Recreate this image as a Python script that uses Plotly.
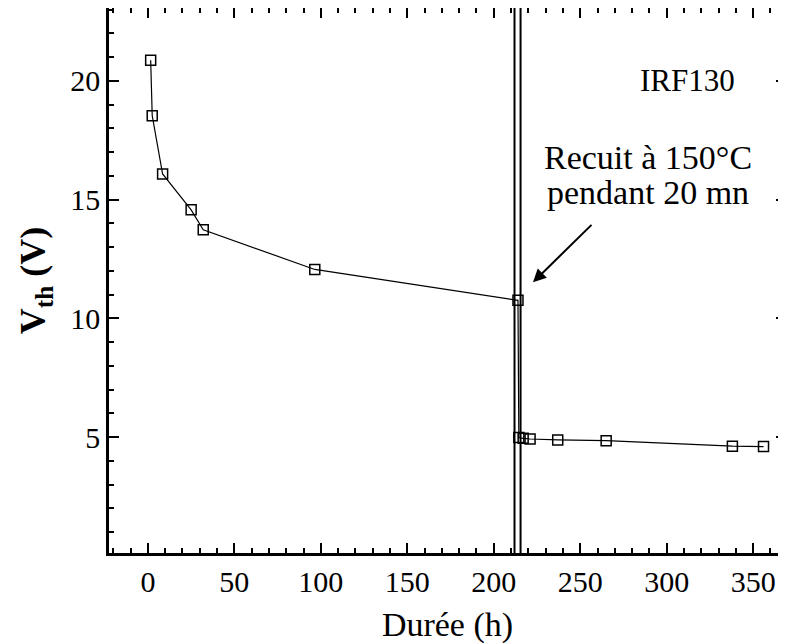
import plotly.graph_objects as go

# Data
hours = [1.6, 2.5, 8.5, 25, 32, 96.5, 214, 214.5, 217, 221, 237, 265, 338, 356]
vth = [20.87, 18.53, 16.08, 14.57, 13.73, 12.06, 10.76, 4.98, 4.95, 4.92, 4.88, 4.85, 4.62, 4.60]

anneal_lines = [212, 215.5]
x_ticks = [0, 50, 100, 150, 200, 250, 300, 350]
y_ticks = [5, 10, 15, 20]

FONT = "Liberation Serif"

fig = go.Figure()
fig.add_trace(go.Scatter(
    x=hours, y=vth, mode="lines+markers",
    line=dict(color="black", width=1.2),
    marker=dict(symbol="square-open", size=10, color="black", line=dict(width=1.5)),
    showlegend=False,
))

for xv in anneal_lines:
    fig.add_shape(type="line", x0=xv, x1=xv, y0=0, y1=1, xref="x", yref="paper",
                  line=dict(color="black", width=2))

fig.add_annotation(x=222.7, y=11.52, ax=257.4, ay=14.0, xref="x", yref="y",
                   axref="x", ayref="y", showarrow=True, arrowhead=2,
                   arrowsize=1.3, arrowwidth=2, arrowcolor="black", text="")
fig.add_annotation(x=312, y=20.0, text="IRF130", showarrow=False,
                   font=dict(family=FONT, size=31, color="black"))
fig.add_annotation(x=289, y=16.76, text="Recuit à 150°C", showarrow=False,
                   font=dict(family=FONT, size=34, color="black"))
fig.add_annotation(x=289, y=15.29, text="pendant 20 mn", showarrow=False,
                   font=dict(family=FONT, size=34, color="black"))

axis_common = dict(
    showline=True, linecolor="black", linewidth=2.5, mirror="allticks",
    ticks="inside", ticklen=10, tickwidth=2, tickcolor="black",
    showgrid=False, zeroline=False, automargin=False,
    tickfont=dict(family=FONT, size=30, color="black"),
)

fig.update_xaxes(
    range=[-22.5, 369], tickvals=x_ticks,
    minor=dict(ticks="inside", ticklen=5, tickwidth=2, tickcolor="black", dtick=10, tick0=0),
    title=dict(text="Durée (h)", font=dict(family=FONT, size=34, color="black"), standoff=18),
    **axis_common,
)
fig.update_yaxes(
    range=[0.12, 23.07], tickvals=y_ticks,
    minor=dict(ticks="inside", ticklen=5, tickwidth=2, tickcolor="black", dtick=1, tick0=0),
    title=dict(text="<b>V<sub>th</sub> (V)</b>", font=dict(family=FONT, size=36, color="black"), standoff=14),
    **axis_common,
)

fig.update_layout(
    width=778, height=636,
    margin=dict(l=101, r=0, t=0, b=91),
    plot_bgcolor="white", paper_bgcolor="white",
)

fig.write_html("out.html")
